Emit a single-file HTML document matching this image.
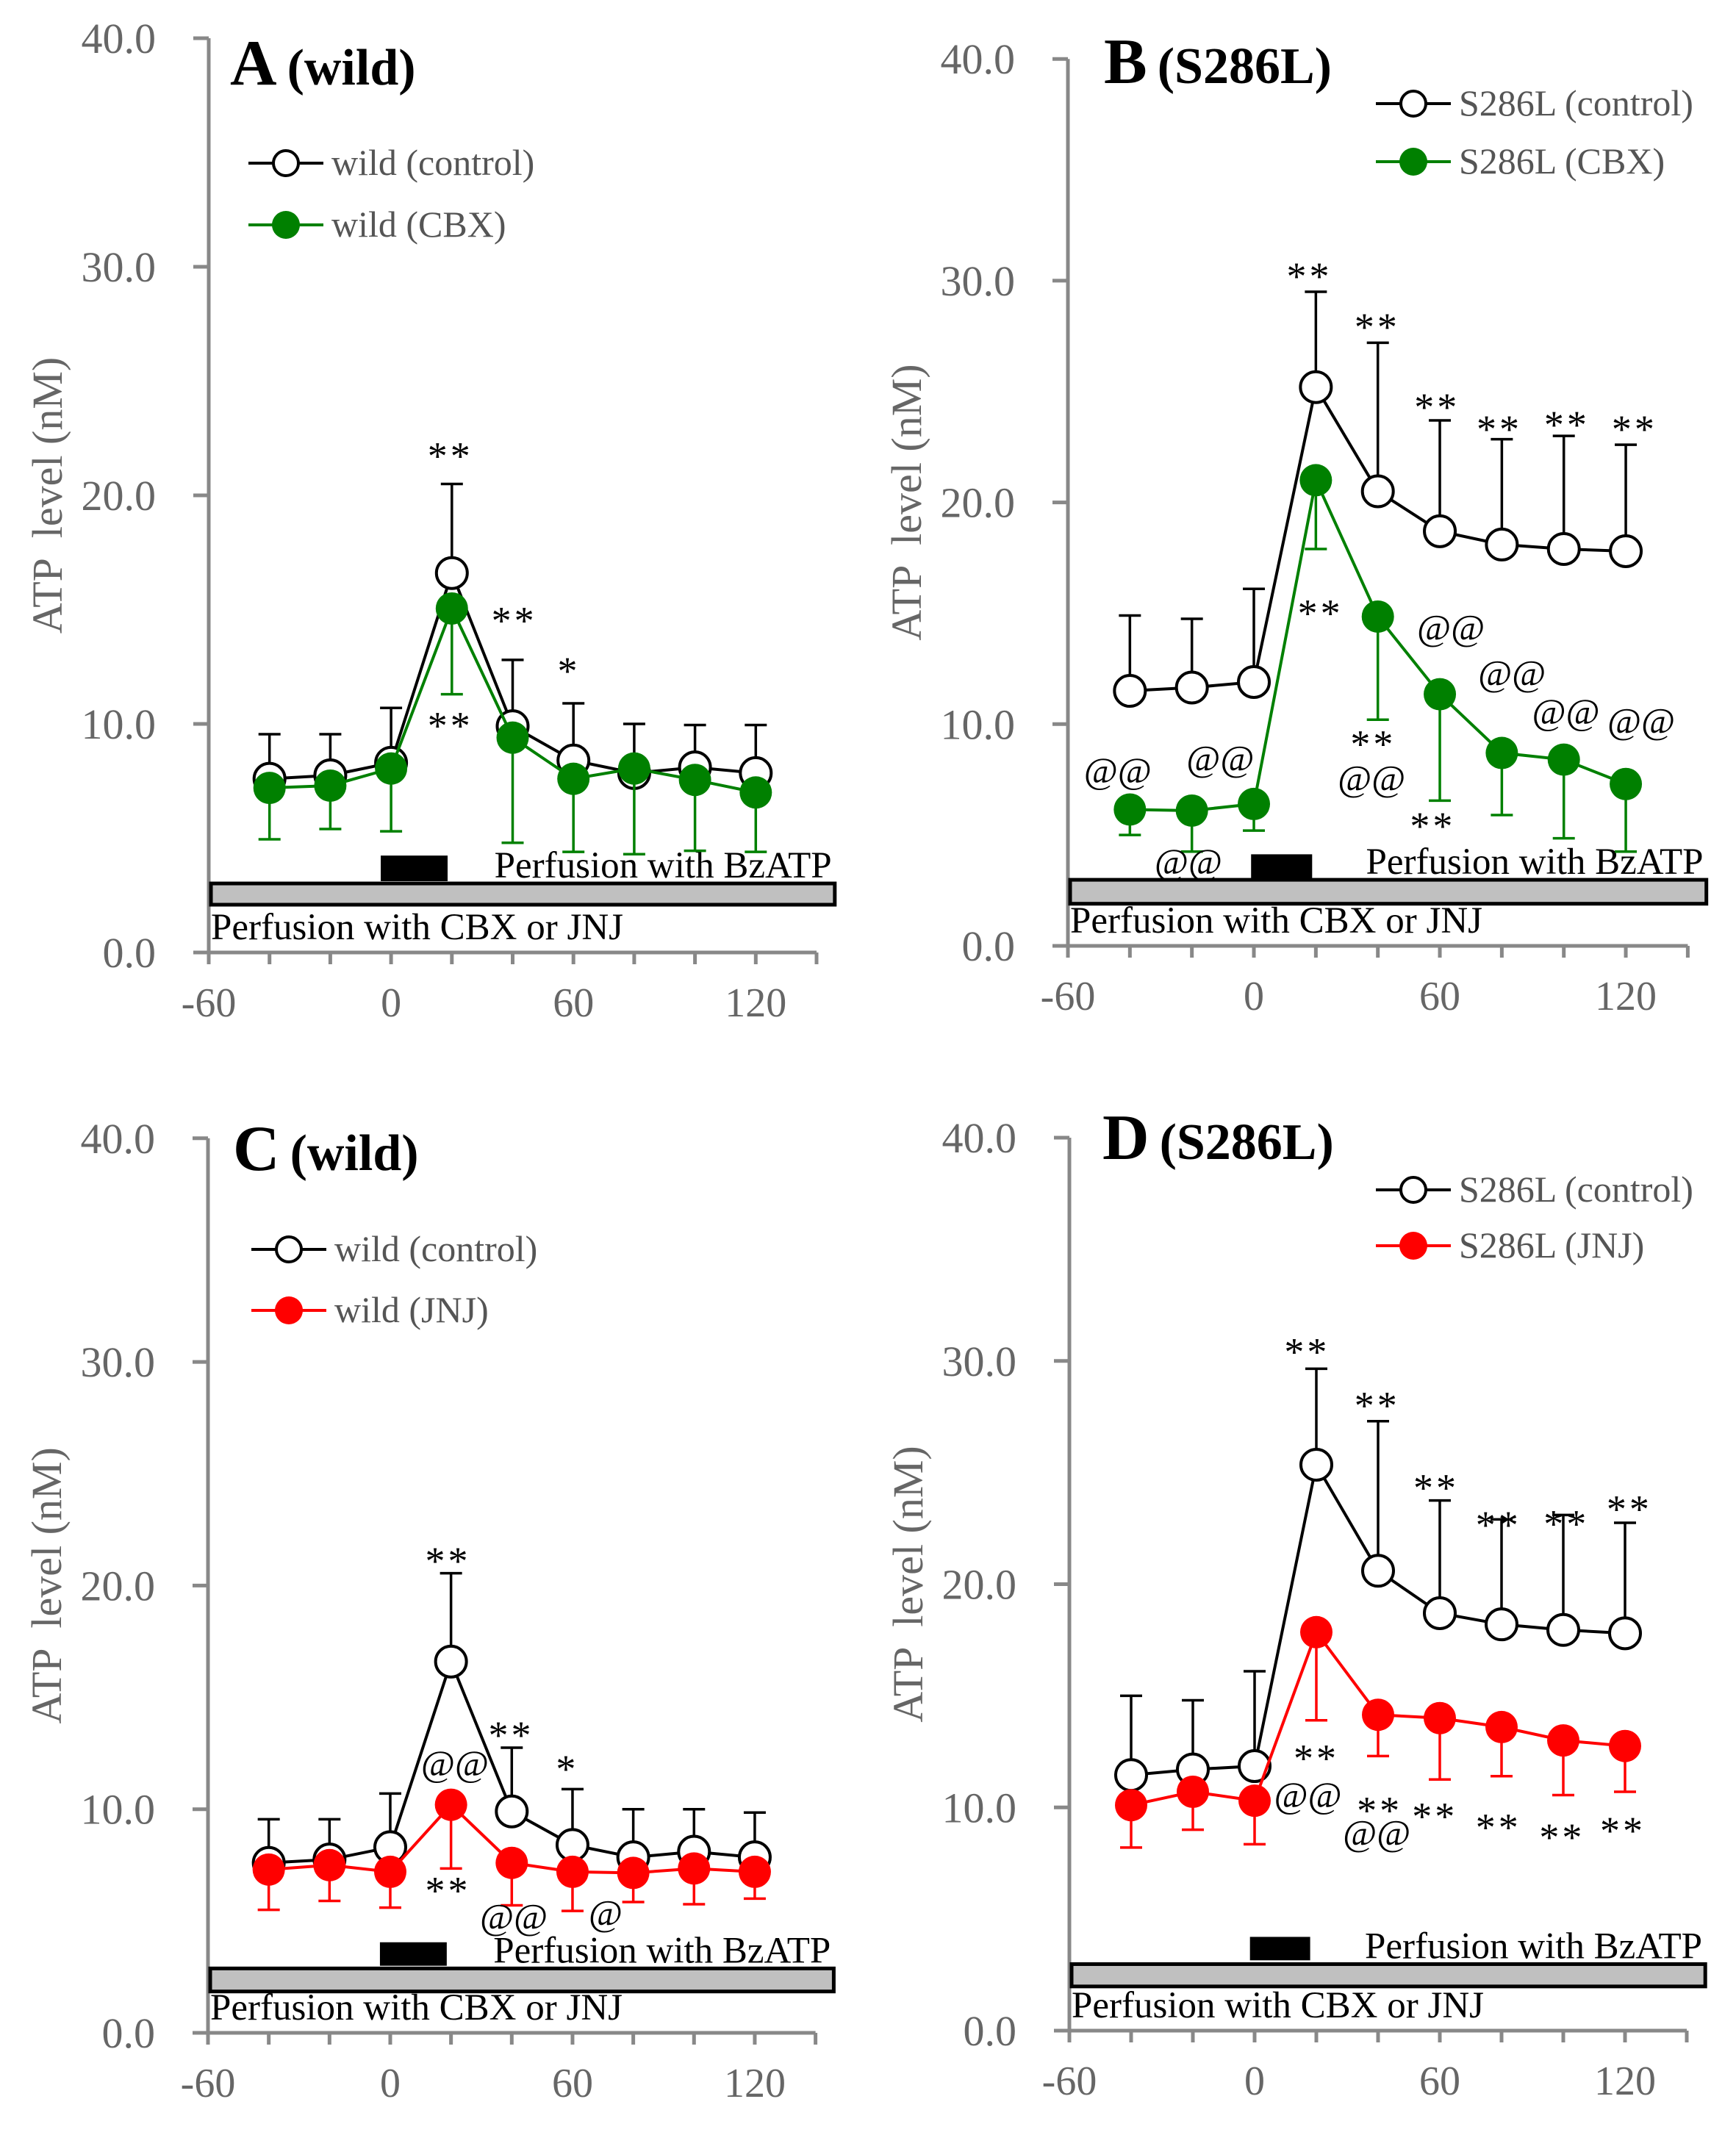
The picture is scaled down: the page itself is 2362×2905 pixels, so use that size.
<!DOCTYPE html>
<html><head><meta charset="utf-8">
<style>html,body{margin:0;padding:0;background:#fff}svg{display:block}</style>
</head><body>
<svg id="s" xmlns="http://www.w3.org/2000/svg" width="2362" height="2905" viewBox="0 0 2362 2905" font-family="Liberation Serif, serif"></svg>
<script>
const S=document.getElementById('s');let out='';
const X=[-40,-20,0,20,40,60,80,100,120];
function panel(p){
 const px=x=>p.x0+(x+60)*p.kx, py=y=>p.y0-y*p.ky;
 const top=py(40);
 let o='';
 o+=`<line x1="${p.x0}" y1="${top}" x2="${p.x0}" y2="${p.y0}" stroke="#888" stroke-width="5"/>`;
 o+=`<line x1="${p.x0-21}" y1="${p.y0}" x2="${px(140)}" y2="${p.y0}" stroke="#888" stroke-width="5"/>`;
 for(let v=0;v<=40;v+=10){o+=`<line x1="${p.x0-21}" y1="${py(v)}" x2="${p.x0}" y2="${py(v)}" stroke="#888" stroke-width="5"/>`;
  o+=`<text x="${p.x0-72}" y="${py(v)+20}" font-size="58" fill="#666" text-anchor="end">${v.toFixed(1)}</text>`;}
 for(let t=-60;t<=140;t+=20){o+=`<line x1="${px(t)}" y1="${p.y0}" x2="${px(t)}" y2="${p.y0+16}" stroke="#888" stroke-width="5"/>`;}
 for(const t of [-60,0,60,120]) o+=`<text x="${px(t)}" y="${p.y0+87}" font-size="56" fill="#666" text-anchor="middle">${t}</text>`;
 const cx=p.x0-220, cy=py(20);
 o+=`<text x="${cx}" y="${cy}" font-size="58" fill="#666" text-anchor="middle" transform="rotate(-90 ${cx} ${cy})" dy="20" xml:space="preserve">ATP  level (nM)</text>`;
 o+=`<rect x="${px(p.bb[0])}" y="${py(p.bb[3])}" width="${px(p.bb[1])-px(p.bb[0])}" height="${py(p.bb[2])-py(p.bb[3])}" fill="#000"/>`;
 o+=`<rect x="${p.x0+3}" y="${py(p.gb[1])}" width="${px(146)-p.x0-3}" height="${py(p.gb[0])-py(p.gb[1])}" fill="#c0c0c0" stroke="#000" stroke-width="5"/>`;
 o+=`<text x="${px(145)}" y="${py(p.gb[1])-8}" font-size="51" fill="#000" text-anchor="end">Perfusion with BzATP</text>`;
 o+=`<text x="${p.x0+3}" y="${p.y0-18}" font-size="51" fill="#000">Perfusion with CBX or JNJ</text>`;
 function series(vals,err,col,filled){
  let s='';
  vals.forEach((v,i)=>{const e=err[i];s+=`<line x1="${px(X[i])}" y1="${py(v)}" x2="${px(X[i])}" y2="${py(e)}" stroke="${col}" stroke-width="3.5"/><line x1="${px(X[i])-15}" y1="${py(e)}" x2="${px(X[i])+15}" y2="${py(e)}" stroke="${col}" stroke-width="3.5"/>`;});
  s+=`<polyline fill="none" stroke="${col}" stroke-width="4" points="${vals.map((v,i)=>px(X[i])+','+py(v)).join(' ')}"/>`;
  vals.forEach((v,i)=>{s+=filled?`<circle cx="${px(X[i])}" cy="${py(v)}" r="22" fill="${col}"/>`:`<circle cx="${px(X[i])}" cy="${py(v)}" r="21" fill="#fff" stroke="#000" stroke-width="4"/>`;});
  return s;}
 o+=series(p.c,p.ce,'#000',false);
 o+=series(p.t,p.te,p.col,true);
 for(const a of p.ann){const isStar=a[0].indexOf('*')>=0;
  o+=`<text x="${px(a[1])}" y="${py(a[2])+(isStar?30:15)}" font-size="${isStar?54:50}" fill="#000" text-anchor="middle" ${isStar?'letter-spacing="4"':''}>${a[0]}</text>`;}
 const L=p.leg;
 [[L[1],'#000',false,p.l1],[L[2],p.col,true,p.l2]].forEach(([y,col,f,txt])=>{
  o+=`<line x1="${L[0]}" y1="${y}" x2="${L[0]+102}" y2="${y}" stroke="${col}" stroke-width="4"/>`;
  o+=f?`<circle cx="${L[0]+51}" cy="${y}" r="19" fill="${col}"/>`:`<circle cx="${L[0]+51}" cy="${y}" r="17" fill="#fff" stroke="#000" stroke-width="4"/>`;
  o+=`<text x="${L[0]+113}" y="${y+16}" font-size="50" fill="#555">${txt}</text>`;});
 o+=`<text x="${p.ti[0]}" y="${p.ti[1]}" font-weight="bold" fill="#000"><tspan font-size="88">${p.ti[2]}</tspan><tspan font-size="70" dx="14">${p.ti[3]}</tspan></text>`;
 return o;}
const wc=[7.6,7.75,8.3,16.6,9.9,8.4,7.85,8.1,7.85], wce=[9.55,9.55,10.7,20.5,12.8,10.9,10.0,9.95,9.95];
const sc=[11.5,11.65,11.9,25.2,20.5,18.7,18.1,17.9,17.8], sce=[14.9,14.75,16.1,29.5,27.2,23.7,22.85,23.0,22.6];
out+=panel({x0:284,kx:4.135,y0:1296,ky:31.1,col:'#008000',
 c:wc,ce:wce,t:[7.2,7.3,8.05,15.05,9.4,7.6,8.05,7.55,7.0],te:[4.95,5.4,5.3,11.3,4.8,4.4,4.3,4.45,4.4],
 bb:[-3.4,18.6,3.12,4.24],gb:[2.09,3.02],
 ann:[['**',19.5,22.1],['**',40.5,14.9],['*',58.5,12.7],['**',19.5,10.3]],
 leg:[338,222,306],l1:'wild (control)',l2:'wild (CBX)',ti:[313,115,'A','(wild)']});
out+=panel({x0:1453,kx:4.217,y0:1287,ky:30.17,col:'#008000',
 c:sc,ce:sce,t:[6.15,6.1,6.4,21.0,14.85,11.35,8.7,8.4,7.3],te:[5.0,4.25,5.2,17.9,10.2,6.55,5.9,4.85,4.25],
 bb:[-0.9,18.8,2.98,4.13],gb:[1.9,2.98],
 ann:[['**',17.9,30.6],['**',39.8,28.3],['**',59.1,24.7],['**',79.2,23.7],['**',101,23.9],['**',122.8,23.7],['**',21.5,15.4],
 ['@@',63.6,14.3],['@@',83.3,12.25],['@@',100.7,10.5],['@@',125,10.1],['**',38.5,9.5],['@@',38,7.5],['**',57.7,5.8],['@@',-43.9,7.85],['@@',-10.8,8.4],['@@',-21.1,3.74]],
 leg:[1872,141,220],l1:'S286L (control)',l2:'S286L (CBX)',ti:[1502,113,'B','(S286L)']});
out+=panel({x0:283,kx:4.133,y0:2766,ky:30.43,col:'#ff0000',
 c:wc,ce:[9.55,9.55,10.7,20.55,12.75,10.9,10.0,10.0,9.85],t:[7.3,7.5,7.2,10.2,7.6,7.2,7.15,7.35,7.2],te:[5.5,5.9,5.6,7.35,5.7,5.45,5.85,5.75,6.0],
 bb:[-3.4,18.6,3.0,4.05],gb:[1.85,2.88],
 ann:[['**',19,21.5],['**',39.8,13.7],['*',58.3,12.2],['@@',21.3,12.0],['**',19,6.75],['@@',40.7,5.15],['@',70.9,5.3]],
 leg:[342,1700,1783],l1:'wild (control)',l2:'wild (JNJ)',ti:[317,1592,'C','(wild)']});
out+=panel({x0:1455,kx:4.2,y0:2763,ky:30.375,col:'#ff0000',
 c:[11.45,11.7,11.85,25.35,20.6,18.7,18.2,17.95,17.8],ce:[15.0,14.8,16.1,29.65,27.3,23.75,22.9,23.1,22.75],
 t:[10.1,10.7,10.3,17.85,14.15,14.0,13.6,13.0,12.75],te:[8.2,9.0,8.35,13.9,12.3,11.25,11.4,10.55,10.7],
 bb:[-1.5,18,3.15,4.2],gb:[1.98,2.98],
 ann:[['**',17,30.8],['**',39.7,28.4],['**',58.8,24.7],['**',79,23.05],['**',101,23.1],['**',121.4,23.75],['**',20,12.6],['@@',17.3,10.5],['**',40.5,10.25],['@@',39.6,8.8],['**',58.4,10.0],['**',79,9.5],['**',99.6,9.05],['**',119.3,9.35]],
 leg:[1872,1619,1695],l1:'S286L (control)',l2:'S286L (JNJ)',ti:[1500,1577,'D','(S286L)']});
S.innerHTML=out;
</script>
</body></html>
